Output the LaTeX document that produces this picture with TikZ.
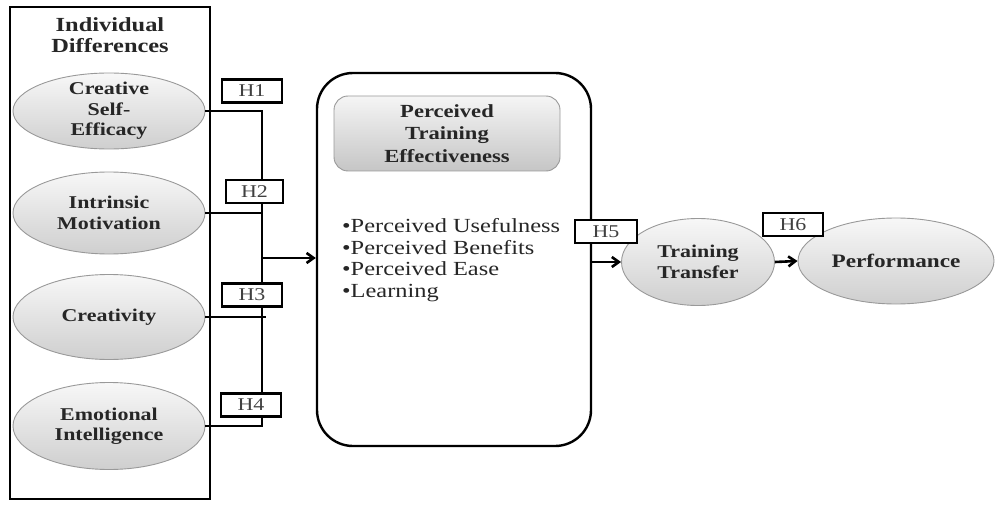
\documentclass[tikz,border=0pt]{standalone}
\usepackage{fontspec}
\setmainfont{Liberation Serif}[FakeStretch=1.22]
\usetikzlibrary{shapes.geometric,arrows.meta}

\tikzset{
  grp/.style={draw,line width=2.6pt,inner sep=0pt},
  oval/.style={ellipse,draw=gray!80,line width=0.9pt,top color=gray!6,bottom color=gray!38,
    minimum width=192pt,minimum height=76pt,inner sep=0pt,align=center,text=black!85,
    font=\bfseries\fontsize{18}{20.5}\selectfont},
  hyp/.style={draw,line width=2.4pt,fill=white,minimum width=60pt,minimum height=23pt,
    inner sep=0pt,text=black!75,font=\fontsize{18}{18}\selectfont},
  link/.style={line width=2.6pt},
  arr/.style={link,-{Straight Barb[length=7pt,width=10pt]}}
}

\begin{document}
\begin{tikzpicture}[x=1pt,y=-1pt]
\useasboundingbox (0,0) rectangle (998,505);
% individual differences
\node[grp,minimum width=200pt,minimum height=492pt] (idbox) at (110,253) {};
\node[font=\bfseries\fontsize{20}{21.5}\selectfont,align=center,text=black!85] (idtitle) at (110,35) {Individual\\Differences};
\node[oval,inner ysep=-12pt] (cse) at (109,111) {Creative\\Self-\\Efficacy};
\node[oval,minimum height=82pt] (im) at (109,213) {Intrinsic\\Motivation};
\node[oval,minimum height=85pt] (cr) at (109,317) {Creativity};
\node[oval,minimum height=87pt] (ei) at (109,426) {Emotional\\Intelligence};

% perceived training effectiveness
\node[draw,line width=2.4pt,rounded corners=36pt,minimum width=274pt,minimum height=373pt] (pte) at (454,259.5) {};
\node[draw=gray!80,line width=0.9pt,rounded corners=14pt,top color=gray!8,bottom color=gray!45,
  minimum width=226pt,minimum height=75pt,inner sep=0pt,align=center,text=black!85,
  font=\bfseries\fontsize{18.5}{22.5}\selectfont] (ptehead) at (447,133.5) {Perceived\\Training\\Effectiveness};
\node[anchor=north west,align=left,inner sep=0pt,text=black!85,font=\fontsize{20}{21.8}\selectfont] (ptelist) at (342,218)
  {•Perceived Usefulness\\•Perceived Benefits\\•Perceived Ease\\•Learning};

% outcomes
\node[oval,minimum width=153pt,minimum height=87pt] (tt) at (698,262) {Training\\Transfer};
\node[oval,minimum width=196pt,minimum height=86pt,font=\bfseries\fontsize{19}{20.5}\selectfont] (perf) at (896,261) {Performance};

% links
\coordinate (bb) at (262,426);
\coordinate (jn) at (262,258);
\draw[link] (cse.east) -| (bb) -- (ei.east);
\draw[link] (im.east) -- (im.east -| bb);
\draw[link,shorten >=-4pt] (cr.east) -- (cr.east -| bb);
\draw[arr] (jn) -- (jn -| pte.west);
\draw[arr] (tt.west -| pte.east) -- (tt.west);
\draw[arr] (tt.east) -- (perf.west);

% hypotheses
\node[hyp] (h1) at (252,91) {H1};
\node[hyp,minimum width=57pt] (h2) at (254.5,191.5) {H2};
\node[hyp] (h3) at (252,295) {H3};
\node[hyp] (h4) at (251,405) {H4};
\node[hyp,minimum width=62pt] (h5) at (606,231.5) {H5};
\node[hyp] (h6) at (793,224.5) {H6};
\end{tikzpicture}
\end{document}
